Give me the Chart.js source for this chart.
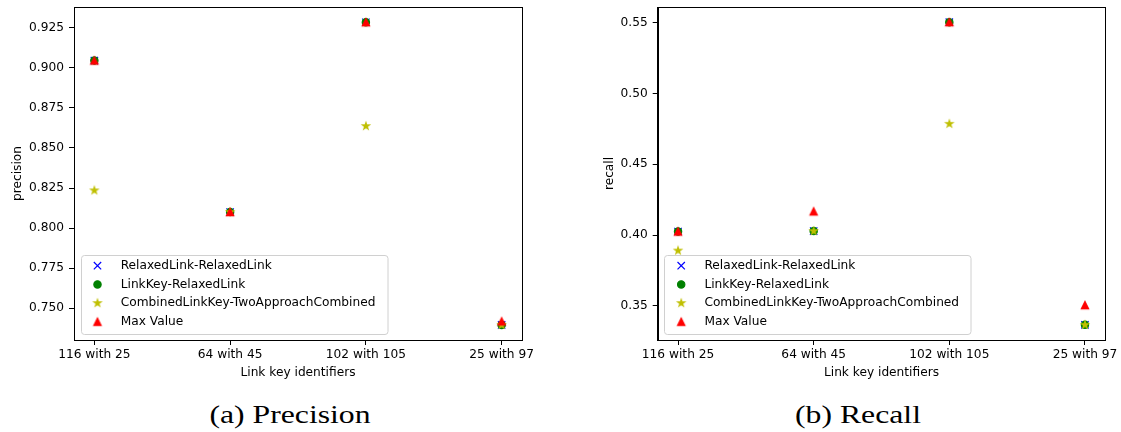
<!DOCTYPE html>
<html>
<head>
<meta charset="utf-8">
<script src="https://cdn.jsdelivr.net/npm/chart.js@4/dist/chart.umd.min.js"></script>
<style>
  body { margin: 0; background: #fff; width: 1121px; height: 432px; position: relative; overflow: hidden; }
  .box { position: absolute; top: 0; height: 390px; }
  .caption { position: absolute; top: 402px; width: 240px; text-align: center; font-family: "Liberation Serif", serif;
             font-size: 26px; line-height: 26px; color: #000; white-space: nowrap; transform: scaleX(1.22); }
</style>
</head>
<body>
<div class="box" style="left:0; width:540px;"><canvas id="precision-chart"></canvas></div>
<div class="box" style="left:560px; width:561px;"><canvas id="recall-chart"></canvas></div>
<div class="caption" style="left:170px;">(a) Precision</div>
<div class="caption" style="left:738px;">(b) Recall</div>
<script>
// Data
const categories = ['116 with 25', '64 with 45', '102 with 105', '25 with 97'];
const seriesNames = ['RelaxedLink-RelaxedLink', 'LinkKey-RelaxedLink', 'CombinedLinkKey-TwoApproachCombined', 'Max Value'];

const precisionRelaxed  = [0.9045, 0.8100, 0.9284, 0.7396];
const precisionLinkKey  = [0.9045, 0.8100, 0.9284, 0.7396];
const precisionCombined = [0.8235, 0.8100, 0.8636, 0.7396];
const precisionMax      = [0.9045, 0.8100, 0.9284, 0.7418];
const precisionTicks = [0.750, 0.775, 0.800, 0.825, 0.850, 0.875, 0.900, 0.925];
const precisionRange = [0.7302, 0.9379];

const recallRelaxed  = [0.4025, 0.4028, 0.5503, 0.3366];
const recallLinkKey  = [0.4025, 0.4028, 0.5503, 0.3366];
const recallCombined = [0.3890, 0.4028, 0.4785, 0.3366];
const recallMax      = [0.4025, 0.4167, 0.5503, 0.3505];
const recallTicks = [0.35, 0.40, 0.45, 0.50, 0.55];
const recallRange = [0.3259, 0.5610];

const FONT = 'DejaVu Sans';
const FONT_SIZE = 12.2;

// matplotlib style filled markers that Chart.js does not have
function markerImage(kind, color) {
  const c = document.createElement('canvas');
  c.width = 14; c.height = 14;
  const g = c.getContext('2d');
  g.translate(7, 7);
  g.beginPath();
  if (kind == 'star') {
    const R = 3.6, r = R * 0.381966;
    for (let i = 0; i < 10; i++) {
      const a = -Math.PI / 2 + i * Math.PI / 5;
      const rr = (i % 2) ? r : R;
      g.lineTo(rr * Math.cos(a), rr * Math.sin(a));
    }
  } else {
    const s = 3.65;
    g.moveTo(0, -s); g.lineTo(-s, s); g.lineTo(s, s);
  }
  g.closePath();
  g.fillStyle = color; g.fill();
  g.strokeStyle = color; g.lineWidth = 1.2; g.lineJoin = 'miter'; g.stroke();
  return c;
}

const starMarker = markerImage('star', '#bfbf00');
const triangleMarker = markerImage('triangle', '#ff0000');

function toPoints(values) {
  return values.map((v, i) => ({ x: i, y: v }));
}

function buildDatasets(relaxed, linkKey, combined, maxVal) {
  // order: lower is drawn on top, so the red triangles end up above everything like in matplotlib
  return [
    { label: seriesNames[0], data: toPoints(relaxed), pointStyle: 'crossRot', pointRadius: 5.2, borderWidth: 1.2,
      borderColor: '#0000ff', backgroundColor: '#0000ff', order: 4 },
    { label: seriesNames[1], data: toPoints(linkKey), pointStyle: 'circle', pointRadius: 3.65, borderWidth: 1.2,
      borderColor: '#008000', backgroundColor: '#008000', order: 3 },
    { label: seriesNames[2], data: toPoints(combined), pointStyle: starMarker, pointRadius: 4, borderWidth: 0,
      borderColor: '#bfbf00', backgroundColor: '#bfbf00', order: 2 },
    { label: seriesNames[3], data: toPoints(maxVal), pointStyle: triangleMarker, pointRadius: 4, borderWidth: 0,
      borderColor: '#ff0000', backgroundColor: '#ff0000', order: 1 }
  ];
}

// Full box around the axes (Chart.js only draws left/bottom borders)
const frameBox = {
  id: 'frameBox',
  afterDatasetsDraw(chart) {
    const a = chart.chartArea;
    const ctx = chart.ctx;
    ctx.save();
    ctx.strokeStyle = '#000';
    ctx.lineWidth = 1;
    ctx.strokeRect(Math.round(a.left) + 0.5, Math.round(a.top) + 0.5,
                   Math.round(a.right) - Math.round(a.left), Math.round(a.bottom) - Math.round(a.top));
    ctx.restore();
  }
};

// Legend inside the axes, lower left, like matplotlib's best location
const insideLegend = {
  id: 'insideLegend',
  afterDraw(chart) {
    const a = chart.chartArea;
    const ctx = chart.ctx;
    const x0 = a.left + 6.5, w = 306.5, h = 79;
    const y0 = a.bottom - 6 - h;
    ctx.save();
    ctx.beginPath();
    ctx.roundRect(Math.round(x0) + 0.5, Math.round(y0) + 0.5, w, h, 3);
    ctx.fillStyle = 'rgba(255,255,255,0.8)';
    ctx.fill();
    ctx.strokeStyle = '#d0d0d0';
    ctx.lineWidth = 1;
    ctx.stroke();
    chart.data.datasets.forEach((ds, i) => {
      const cy = y0 + 10.7 + i * 18.7;
      ctx.fillStyle = ds.backgroundColor;
      ctx.strokeStyle = ds.borderColor;
      ctx.lineWidth = ds.borderWidth;
      Chart.helpers.drawPoint(ctx, { pointStyle: ds.pointStyle, radius: ds.pointRadius, borderWidth: ds.borderWidth, rotation: 0 },
                              a.left + 23.5, cy);
      ctx.fillStyle = '#000';
      ctx.font = FONT_SIZE + 'px "' + FONT + '"';
      ctx.textBaseline = 'middle';
      ctx.textAlign = 'left';
      ctx.fillText(ds.label, a.left + 46.7, cy);
    });
    ctx.restore();
  }
};

function makeChart(canvasId, datasets, yLabel, yTicks, yRange, decimals, pad, yWidth) {
  const ctx = document.getElementById(canvasId).getContext('2d');
  return new Chart(ctx, {
    type: 'scatter',
    data: { datasets: datasets },
    plugins: [frameBox, insideLegend],
    options: {
      responsive: true,
      maintainAspectRatio: false,
      animation: false,
      events: [],
      layout: { padding: pad },
      plugins: { legend: { display: false }, tooltip: { enabled: false } },
      scales: {
        x: {
          type: 'linear',
          min: -0.15,
          max: 3.15,
          afterBuildTicks: function (scale) {
            scale.ticks = categories.map((c, i) => ({ value: i }));
          },
          afterFit: function (scale) {
            scale.height = 50;
            scale.paddingLeft = 0;
            scale.paddingRight = 0;
          },
          ticks: {
            callback: function (v) { return categories[v]; },
            color: '#000', font: { family: FONT, size: FONT_SIZE }, padding: 3,
            maxRotation: 0, autoSkip: false
          },
          grid: { display: true, drawOnChartArea: false, drawTicks: true, tickLength: 5, color: '#000', lineWidth: 1 },
          border: { display: true, color: '#000', width: 1 },
          title: { display: true, text: 'Link key identifiers', color: '#000',
                   font: { family: FONT, size: FONT_SIZE }, padding: { top: 0, bottom: 10 } }
        },
        y: {
          min: yRange[0],
          max: yRange[1],
          afterBuildTicks: function (scale) {
            scale.ticks = yTicks.map(v => ({ value: v }));
          },
          afterFit: function (scale) {
            scale.width = yWidth;
            scale.paddingTop = 0;
            scale.paddingBottom = 0;
          },
          ticks: {
            callback: function (v) { return v.toFixed(decimals); },
            color: '#000', font: { family: FONT, size: FONT_SIZE }, padding: 5
          },
          grid: { display: true, drawOnChartArea: false, drawTicks: true, tickLength: 5, color: '#000', lineWidth: 1 },
          border: { display: true, color: '#000', width: 1 },
          title: { display: true, text: yLabel, color: '#000',
                   font: { family: FONT, size: FONT_SIZE }, padding: { top: 11, bottom: 0 } }
        }
      }
    }
  });
}

makeChart('precision-chart',
  buildDatasets(precisionRelaxed, precisionLinkKey, precisionCombined, precisionMax),
  'precision', precisionTicks, precisionRange, 3,
  { left: 0, top: 7, right: 18, bottom: 0 }, 74);

makeChart('recall-chart',
  buildDatasets(recallRelaxed, recallLinkKey, recallCombined, recallMax),
  'recall', recallTicks, recallRange, 2,
  { left: 32, top: 7, right: 15.7, bottom: 0 }, 65.7);
</script>
</body>
</html>
